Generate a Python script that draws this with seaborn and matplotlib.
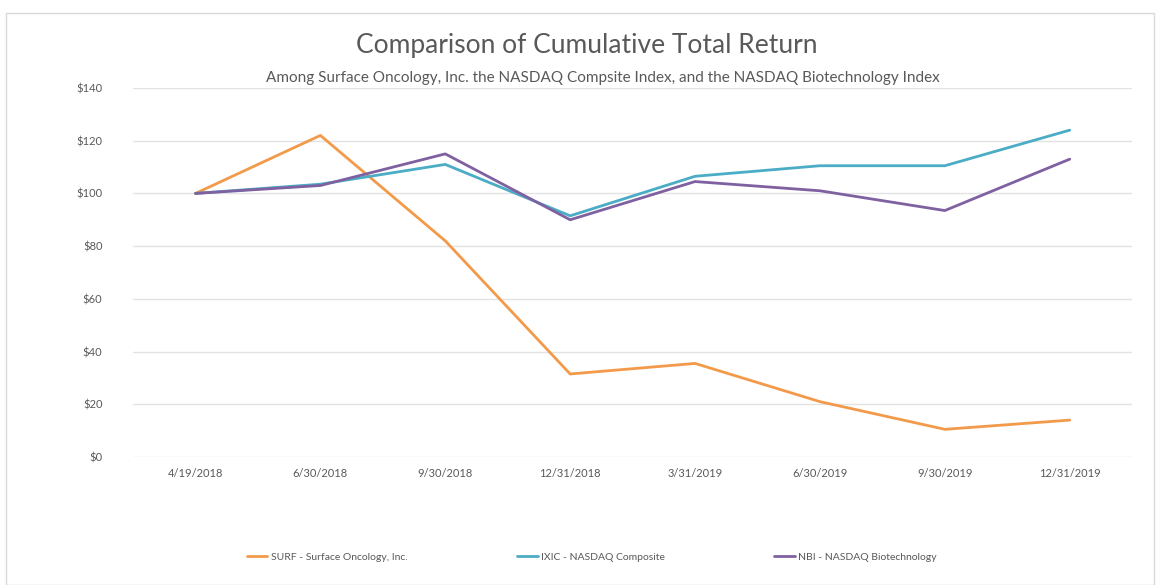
import matplotlib
matplotlib.use("Agg")
import matplotlib.pyplot as plt
import seaborn as sns
import pandas as pd

dates = ["4/19/2018", "6/30/2018", "9/30/2018", "12/31/2018", "3/31/2019", "6/30/2019", "9/30/2019", "12/31/2019"]
surf = [100, 122, 82, 31.5, 35.5, 21, 10.5, 14]
ixic = [100, 103.5, 111, 91.5, 106.5, 110.5, 110.5, 124]
nbi = [100, 103, 115, 90, 104.5, 101, 93.5, 113]
series_names = ["SURF - Surface Oncology, Inc.", "IXIC - NASDAQ Composite", "NBI - NASDAQ Biotechnology"]
yticks = [0, 20, 40, 60, 80, 100, 120, 140]

sns.set_theme(style="white")
plt.rcParams['font.family'] = ['Lato', 'DejaVu Sans']

rows = []
for name, vals in zip(series_names, [surf, ixic, nbi]):
    for i, (d, v) in enumerate(zip(dates, vals)):
        rows.append({"idx": i, "date": d, "value": v, "series": name})
df = pd.DataFrame(rows)

fig = plt.figure(figsize=(11.6, 5.85), dpi=100)
ax = fig.add_axes([0.1147, 0.2188, 0.976 - 0.1147, 0.8496 - 0.2188])

palette = {series_names[0]: "#F39A4A", series_names[1]: "#4BACC6", series_names[2]: "#7F60A0"}
sns.lineplot(data=df, x="idx", y="value", hue="series", palette=palette, linewidth=2.0, ax=ax, legend=False, sort=False)

ax.set_xlim(-0.5, 7.5)
ax.set_ylim(0, 140)
ax.set_xticks(range(len(dates)))
ax.set_xticklabels(dates)
ax.set_yticks(yticks)
ax.set_yticklabels([f"${v}" for v in yticks])
ax.grid(axis="y", color="#E3E3E3", linewidth=1)
ax.set_axisbelow(True)
for s in ax.spines.values():
    s.set_visible(False)
ax.tick_params(axis="both", length=0, labelsize=8, colors="#595959", pad=8)
ax.tick_params(axis="y", pad=22)
ax.set_xlabel("")
ax.set_ylabel("")

fig.text(0.506, 0.922, "Comparison of Cumulative Total Return", ha="center", va="center", fontsize=19, color="#595959")
fig.text(0.52, 0.866, "Among Surface Oncology, Inc. the NASDAQ Compsite Index, and the NASDAQ Biotechnology Index",
         ha="center", va="center", fontsize=11, color="#595959")

from matplotlib.lines import Line2D
handles = [Line2D([0], [0], color=palette[n], linewidth=2.0) for n in series_names]
leg = fig.legend(handles, series_names, loc="center", bbox_to_anchor=(0.51, 0.048), ncol=3, frameon=False,
                 fontsize=7.5, handlelength=2.0, handletextpad=0.3, columnspacing=10.5)
for t in leg.get_texts():
    t.set_color("#595959")

border = plt.Rectangle((0.005, 0.0), 0.99, 0.978, transform=fig.transFigure, fill=False, edgecolor="#D9D9D9", linewidth=1)
fig.add_artist(border)

fig.savefig("out.png", dpi=100, facecolor="white")
